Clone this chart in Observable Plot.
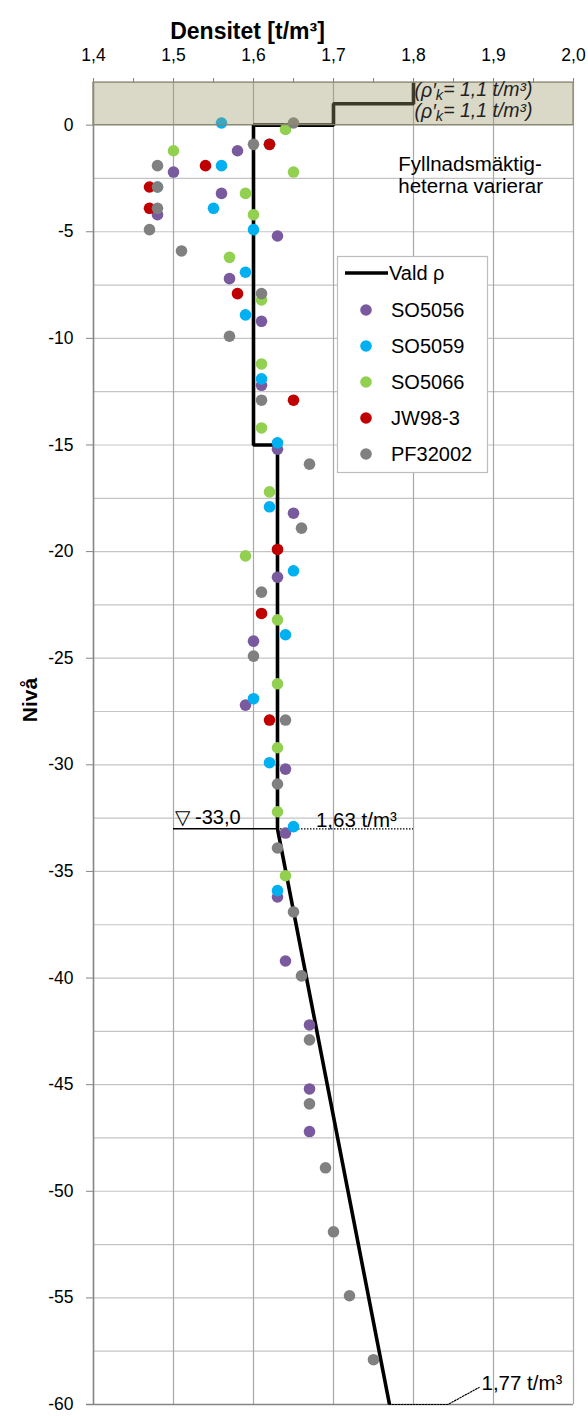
<!DOCTYPE html>
<html><head><meta charset="utf-8">
<script src="https://cdn.jsdelivr.net/npm/d3@7"></script>
<script src="https://cdn.jsdelivr.net/npm/@observablehq/plot@0.6"></script>
<style>
body{margin:0;background:#fff}
svg{display:block}
</style>
</head><body><div id="chart"></div>
<script>
// ---- data ----
const seriesNames = ["SO5056", "SO5059", "SO5066", "JW98-3", "PF32002"];
const seriesColors = ["#7a5a9e", "#00b0f0", "#92d050", "#c00000", "#808080"];

const so5056Density = [1.58, 1.50, 1.56, 1.48, 1.63, 1.57, 1.61, 1.61, 1.63, 1.65, 1.63, 1.60, 1.59, 1.64, 1.64, 1.63, 1.64, 1.67, 1.67, 1.67];
const so5056Level   = [-1.2, -2.2, -3.2, -4.2, -5.2, -7.2, -9.2, -12.2, -15.2, -18.2, -21.2, -24.2, -27.2, -30.2, -33.2, -36.2, -39.2, -42.2, -45.2, -47.2];

const so5059Density = [1.56, 1.62, 1.56, 1.48, 1.55, 1.60, 1.59, 1.59, 1.61, 1.63, 1.62, 1.65, 1.64, 1.60, 1.62, 1.65, 1.63];
const so5059Level   = [0.1, -0.9, -1.9, -2.9, -3.9, -4.9, -6.9, -8.9, -11.9, -14.9, -17.9, -20.9, -23.9, -26.9, -29.9, -32.9, -35.9];

const so5066Density = [1.64, 1.50, 1.65, 1.59, 1.60, 1.57, 1.61, 1.61, 1.61, 1.62, 1.59, 1.63, 1.63, 1.63, 1.63, 1.64];
const so5066Level   = [-0.2, -1.2, -2.2, -3.2, -4.2, -6.2, -8.2, -11.2, -14.2, -17.2, -20.2, -23.2, -26.2, -29.2, -32.2, -35.2];

const jw983Density = [1.62, 1.54, 1.47, 1.47, 1.58, 1.65, 1.63, 1.61, 1.62];
const jw983Level   = [-0.9, -1.9, -2.9, -3.9, -7.9, -12.9, -19.9, -22.9, -27.9];

const pf32002Density = [1.65, 1.60, 1.48, 1.48, 1.48, 1.47, 1.51, 1.61, 1.57, 1.61, 1.67, 1.66, 1.61, 1.60, 1.64, 1.63, 1.63, 1.65, 1.66, 1.67, 1.67, 1.69, 1.70, 1.72, 1.75];
const pf32002Level   = [0.1, -0.9, -1.9, -2.9, -3.9, -4.9, -5.9, -7.9, -9.9, -12.9, -15.9, -18.9, -21.9, -24.9, -27.9, -30.9, -33.9, -36.9, -39.9, -42.9, -45.9, -48.9, -51.9, -54.9, -57.9];

const valdDensity = [1.8, 1.8, 1.7, 1.7, 1.6, 1.6, 1.63, 1.63, 1.77];
const valdLevel   = [2, 1, 1, 0, 0, -15, -15, -33, -60];

const xTickValues = [1.4, 1.45, 1.5, 1.55, 1.6, 1.65, 1.7, 1.75, 1.8, 1.85, 1.9, 1.95, 2.0];
const xTickLabels = ["1,4", "", "1,5", "", "1,6", "", "1,7", "", "1,8", "", "1,9", "", "2,0"];
const yTickValues = [0, -5, -10, -15, -20, -25, -30, -35, -40, -45, -50, -55, -60];
const yGridValues = [2, 0, -2.5, -5, -7.5, -10, -12.5, -15, -17.5, -20, -22.5, -25, -27.5, -30, -32.5, -35, -37.5, -40, -42.5, -45, -47.5, -50, -52.5, -55, -57.5, -60];
const xGridValues = [1.5, 1.6, 1.7, 1.8, 1.9, 2.0];

const fillLevel = {x1: 1.4, x2: 2.0, y1: 0, y2: 2};
const markLevel = -33;
const markDensityTop = 1.63;
const markDensityBottom = 1.77;

// ---- build tables ----
const densX = [so5056Density, so5059Density, so5066Density, jw983Density, pf32002Density];
const levY = [so5056Level, so5059Level, so5066Level, jw983Level, pf32002Level];
const points = [];
seriesNames.forEach((s, i) => densX[i].forEach((d, j) => points.push({series: s, x: d, y: levY[i][j]})));
const vald = valdDensity.map((d, i) => ({x: d, y: valdLevel[i]}));

const FONT = "'Liberation Sans', Arial, sans-serif";
const R = 5.8;

const plot = Plot.plot({
  width: 588,
  height: 1416,
  marginLeft: 93,
  marginRight: 15,
  marginTop: 82,
  marginBottom: 12,
  style: {fontFamily: FONT, fontSize: "17.5px", color: "#000", background: "#fff", overflow: "visible"},
  x: {domain: [1.4, 2.0]},
  y: {domain: [-60, 2]},
  color: {domain: seriesNames, range: seriesColors},
  marks: [
    Plot.gridY(yGridValues, {stroke: "#c4c4c4", strokeOpacity: 1, strokeWidth: 1.2}),
    Plot.gridX(xGridValues, {stroke: "#a8a8a8", strokeOpacity: 1, strokeWidth: 1.2}),
    Plot.ruleX([1.4], {stroke: "#868686", strokeWidth: 1.6}),
    Plot.ruleY([-60], {x1: 1.4, x2: 2.0, stroke: "#868686", strokeWidth: 1.6, insetLeft: -7}),
    Plot.axisX({anchor: "top", ticks: xTickValues, tickFormat: (d, i) => xTickLabels[i], tickSize: 5, tickPadding: 17, stroke: "#868686", fontSize: 17.5, label: null}),
    Plot.axisY({anchor: "left", ticks: yTickValues, tickFormat: d => String(d), tickSize: 7, tickPadding: 13, stroke: "#868686", fontSize: 17.5, label: null}),
    // annotation lines at -33 and -60
    Plot.ruleY([markLevel], {x1: 1.5, x2: markDensityTop, stroke: "#000", strokeWidth: 1.6}),
    Plot.ruleY([markLevel], {x1: markDensityTop, x2: 1.8, stroke: "#000", strokeWidth: 1.2, strokeDasharray: "1.5,1.5"}),
    Plot.line([{x: markDensityBottom, y: -60}, {x: 1.843, y: -60}, {x: 1.882, y: -59.2}], {x: "x", y: "y", stroke: "#000", strokeWidth: 1.2, strokeDasharray: "1.5,1.5"}),
    // chosen density line
    Plot.line(vald, {x: "x", y: "y", stroke: "#000", strokeWidth: 3.6, strokeLinejoin: "miter", strokeLinecap: "butt"}),
    // measured points
    Plot.dot(points, {x: "x", y: "y", fill: "series", r: R, stroke: null}),
    // fill overlay
    Plot.rect([fillLevel], {x1: "x1", x2: "x2", y1: "y1", y2: "y2", fill: "rgb(158,153,105)", fillOpacity: 0.38, stroke: "#8a8770", strokeWidth: 1.2}),
    // texts
    Plot.text(["(ρ′k = 1,1 t/m³)"], {x: 1.8, y: 1.6, dx: 1, textAnchor: "start", fontStyle: "italic", fontSize: 19.5, className: "rho", fill: "#222"}),
    Plot.text(["(ρ′k = 1,1 t/m³)"], {x: 1.8, y: 0.62, dx: 1, textAnchor: "start", fontStyle: "italic", fontSize: 19.5, className: "rho", fill: "#222"}),
    Plot.text(["Fyllnadsmäktig-", "heterna varierar"], {x: 1.781, y: [-1.83, -2.86], textAnchor: "start", fontSize: 20.5}),
    Plot.text(["▽ -33,0"], {x: 1.5, y: markLevel, dx: 1, dy: -11, textAnchor: "start", fontSize: 20}),
    Plot.text(["1,63 t/m³"], {x: 1.678, y: markLevel, dy: -8, textAnchor: "start", fontSize: 20.5}),
    Plot.text(["1,77 t/m³"], {x: 1.885, y: -59.0, textAnchor: "start", fontSize: 20.5}),
    Plot.text(["Densitet [t/m³]"], {x: 1.5925, frameAnchor: "top", dy: -60, fontSize: 23, fontWeight: "bold"}),
    Plot.text(["Nivå"], {y: -28, frameAnchor: "left", dx: -63, rotate: -90, fontSize: 21, fontWeight: "bold"})
  ]
});

document.getElementById("chart").appendChild(plot);

// subscript k in rho annotations
d3.select(plot).selectAll(".rho text").each(function () {
  this.textContent = "";
  const t = d3.select(this);
  t.append("tspan").text("(ρ′");
  t.append("tspan").attr("dy", "0.22em").attr("font-size", "0.75em").text("k");
  t.append("tspan").attr("dy", "-0.22em").text("= 1,1 t/m³)");
});

// legend box
const svg = d3.select(plot);
const lg = svg.append("g").attr("font-family", FONT).attr("font-size", 20).attr("text-anchor", "start");
lg.append("rect").attr("x", 337.5).attr("y", 256.5).attr("width", 150).attr("height", 216)
  .attr("fill", "#fff").attr("stroke", "#bdbdbd").attr("stroke-width", 1.2);
lg.append("line").attr("x1", 345).attr("x2", 388).attr("y1", 273).attr("y2", 273)
  .attr("stroke", "#000").attr("stroke-width", 3.6);
lg.append("text").attr("x", 389).attr("y", 273).attr("dy", "0.35em").attr("text-anchor", "start").text("Vald ρ");
seriesNames.forEach((s, i) => {
  const yy = 310 + i * 36;
  lg.append("circle").attr("cx", 366).attr("cy", yy).attr("r", R).attr("fill", seriesColors[i]);
  lg.append("text").attr("x", 391).attr("y", yy).attr("dy", "0.35em").attr("text-anchor", "start").text(s);
});
</script>
</body></html>
